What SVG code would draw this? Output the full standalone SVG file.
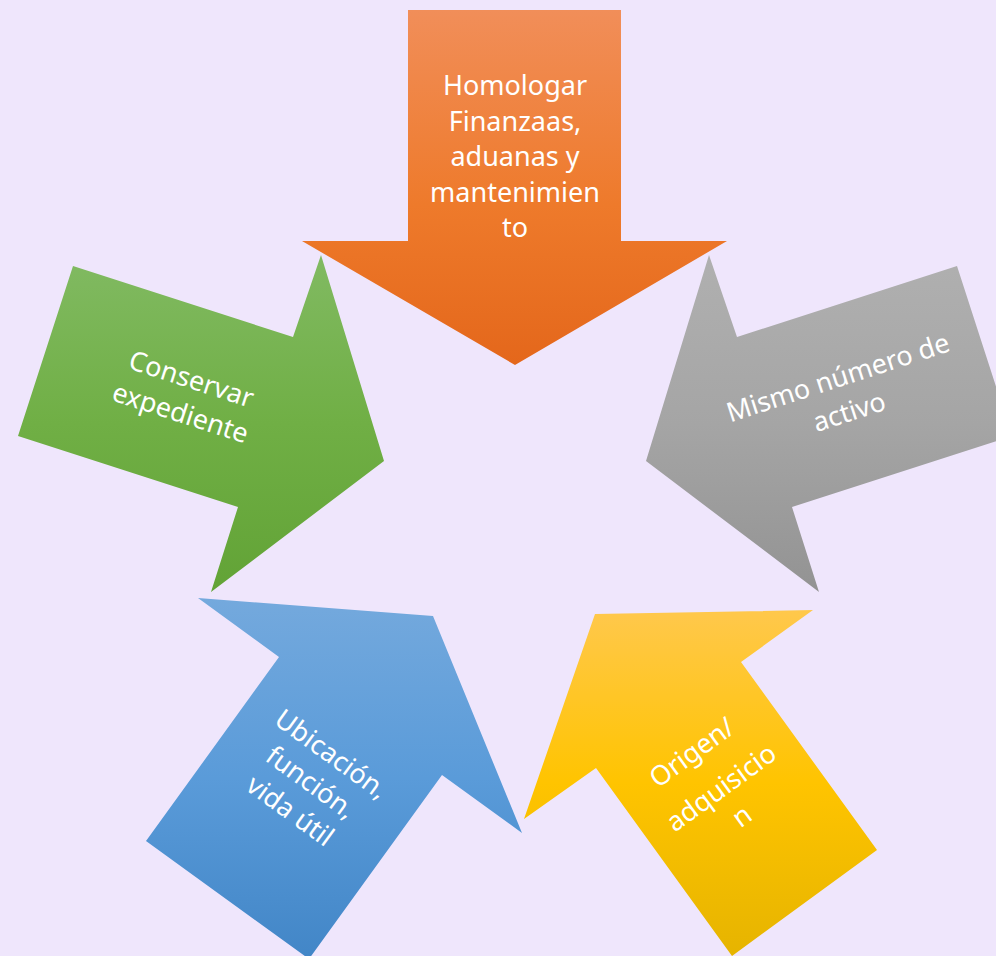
<svg xmlns="http://www.w3.org/2000/svg" width="996" height="956" viewBox="0 0 996 956">
  <style>
    .lbl { font-family: "Noto Sans", "Open Sans", "DejaVu Sans", sans-serif; font-size: 27px; fill: #ffffff; text-anchor: middle; }
  </style>
  <defs>
    <linearGradient id="gOrange" x1="0" y1="0" x2="0" y2="1">
      <stop offset="0" stop-color="#F18E59"/>
      <stop offset="0.55" stop-color="#EE7A2B"/>
      <stop offset="1" stop-color="#E4671B"/>
    </linearGradient>
    <linearGradient id="gGreen" x1="0" y1="0" x2="0" y2="1">
      <stop offset="0" stop-color="#81BA62"/>
      <stop offset="0.5" stop-color="#70AF45"/>
      <stop offset="1" stop-color="#62A336"/>
    </linearGradient>
    <linearGradient id="gGray" x1="0" y1="0" x2="0" y2="1">
      <stop offset="0" stop-color="#B0B0B0"/>
      <stop offset="0.5" stop-color="#A5A5A5"/>
      <stop offset="1" stop-color="#939393"/>
    </linearGradient>
    <linearGradient id="gBlue" x1="0" y1="0" x2="0" y2="1">
      <stop offset="0" stop-color="#74A9DD"/>
      <stop offset="0.5" stop-color="#5A9BD9"/>
      <stop offset="1" stop-color="#4286C7"/>
    </linearGradient>
    <linearGradient id="gYellow" x1="0" y1="0" x2="0" y2="1">
      <stop offset="0" stop-color="#FFC84C"/>
      <stop offset="0.5" stop-color="#FFC400"/>
      <stop offset="1" stop-color="#E6B400"/>
    </linearGradient>
  </defs>
  <rect x="0" y="0" width="996" height="956" fill="#EFE6FC"/>

  <g id="node-homologar">
    <polygon points="408,10 621,10 621,241 727,241 515,365 302,241 408,241" fill="url(#gOrange)"/>
    <text class="lbl" x="515" y="95">Homologar</text>
    <text class="lbl" x="515" y="130.5">Finanzaas,</text>
    <text class="lbl" x="515" y="166">aduanas y</text>
    <text class="lbl" x="515" y="201.5">mantenimien</text>
    <text class="lbl" x="515" y="237">to</text>
  </g>

  <g id="node-conservar">
    <polygon points="73,266 293,337 321,255 384,461 211,592 238,507 18,436" fill="url(#gGreen)"/>
    <g transform="translate(185.6,397) rotate(18)">
      <text class="lbl" x="0" y="-9.5">Conservar</text>
      <text class="lbl" x="0" y="26">expediente</text>
    </g>
  </g>

  <g id="node-mismo-numero">
    <polygon points="957,266 737,337 709,255 646,461 819,592 792,507 1012,436" fill="url(#gGray)"/>
    <g transform="translate(844,396) rotate(-18)">
      <text class="lbl" x="0" y="-10">Mismo número de</text>
      <text class="lbl" x="0" y="26">activo</text>
    </g>
  </g>

  <g id="node-ubicacion">
    <polygon points="198,598 433,616 522,833 442,775 309,959 146,841 279,657" fill="url(#gBlue)"/>
    <g transform="translate(310,783.5) rotate(36)">
      <text class="lbl" x="0" y="-27">Ubicación,</text>
      <text class="lbl" x="0" y="8">función,</text>
      <text class="lbl" x="0" y="43">vida útil</text>
    </g>
  </g>

  <g id="node-origen">
    <polygon points="813,610 595,614 524,819 596,768 732,956 877,850 741,662" fill="url(#gYellow)"/>
    <g transform="translate(722.5,789.5) rotate(-36)">
      <text class="lbl" x="-3" y="-38.5">Origen/</text>
      <text class="lbl" x="0" y="7">adquisicio</text>
      <text class="lbl" x="0" y="42">n</text>
    </g>
  </g>
</svg>
